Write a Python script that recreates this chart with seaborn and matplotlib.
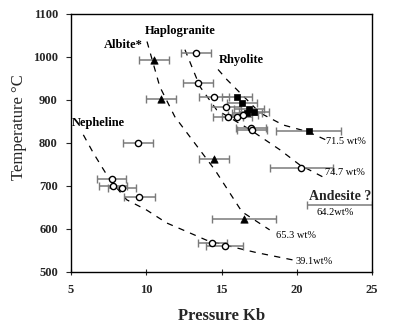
import matplotlib
matplotlib.use("Agg")
import matplotlib.pyplot as plt
import seaborn as sns
import pandas as pd
import numpy as np

# ---- data ----
albite_p = [10.5, 11.0, 14.5, 16.5]
albite_t = [994, 903, 763, 623]
albite_e = [1.0, 1.0, 1.0, 2.1]

haplo_p = [13.3, 13.45, 14.5, 15.3, 15.45, 16.05, 16.45, 16.95, 17.0, 20.3]
haplo_t = [1009, 940, 906, 884, 860, 860, 866, 836, 831, 741]
haplo_e = [1.0, 1.0, 1.0, 1.0, 1.0, 1.0, 1.0, 1.0, 1.0, 2.1]

rhyo_p = [16.0, 16.35, 16.85, 17.15, 16.7, 20.8]
rhyo_t = [907, 893, 879, 873, 870, 827]
rhyo_e = [1.0, 1.0, 1.0, 1.0, 1.0, 2.15]

neph_p = [9.45, 7.7, 7.8, 8.4, 9.55, 14.4, 15.2]
neph_t = [800, 716, 699, 695, 674, 567, 561]
neph_e = [1.0, 0.95, 0.95, 0.95, 1.05, 0.95, 1.2]

andes_p = [22.83]
andes_t = [656]
andes_e = [2.17]

# dashed trend curves
c653_p = [10.05, 10.9, 11.9, 14.57, 16.36, 18.2]
c653_t = [1036, 931, 861, 737, 640, 598]
c747_p = [12.57, 13.57, 14.68, 16.9, 18.89, 20.2, 21.74]
c747_t = [1017, 931, 877, 831, 784, 749, 721]
c715_p = [14.77, 15.37, 17.56, 19.09, 20.75, 21.95]
c715_t = [971, 947, 870, 842, 826, 807]
c391_p = [5.82, 6.48, 7.04, 7.59, 8.7, 10.03, 11.36, 12.69, 14.0, 16.0, 17.34, 19.75]
c391_t = [819, 777, 745, 714, 668, 644, 614, 594, 574, 556, 545, 528]

sns.set_theme(style="white")
plt.rcParams['font.family'] = ['Liberation Serif', 'DejaVu Serif']

fig = plt.figure(figsize=(3.93, 3.3), dpi=100)
ax = fig.add_axes([71/393, 1-272/330, (372-71)/393, (272-14)/330])

# curves
dash = (5, 5)
for cp, ct in [(c653_p, c653_t), (c747_p, c747_t), (c715_p, c715_t), (c391_p, c391_t)]:
    df = pd.DataFrame({"P": cp, "T": ct})
    sns.lineplot(data=df, x="P", y="T", sort=False, color="black", lw=0.9,
                 ax=ax, estimator=None)
    ax.lines[-1].set_dashes(dash)

def ebars(p, t, e):
    ax.errorbar(p, t, xerr=e, fmt="none", ecolor="#7a7a7a", elinewidth=1.1,
                capsize=3, capthick=1.0, zorder=2)
    for cap in ax.containers[-1].lines[1]:
        cap.set_color("black")

for p, t, e in [(albite_p, albite_t, albite_e), (haplo_p, haplo_t, haplo_e),
                (rhyo_p, rhyo_t, rhyo_e), (neph_p, neph_t, neph_e),
                (andes_p, andes_t, andes_e)]:
    ebars(p, t, e)

sns.scatterplot(x=albite_p, y=albite_t, marker="^", s=28, color="black",
                edgecolor="black", linewidth=0.5, ax=ax, zorder=3)
sns.scatterplot(x=rhyo_p, y=rhyo_t, marker="s", s=18, color="black",
                edgecolor="black", linewidth=0.5, ax=ax, zorder=3)
sns.scatterplot(x=haplo_p + neph_p, y=haplo_t + neph_t, marker="o", s=20,
                facecolor="white", edgecolor="black", linewidth=1.0, ax=ax, zorder=3)

ax.set_xlim(5, 25)
ax.set_ylim(500, 1100)
ax.set_xticks([5, 10, 15, 20, 25])
ax.set_yticks(range(500, 1101, 100))
ax.tick_params(axis="x", direction="inout", length=5, width=0.8, labelsize=9,
               bottom=True, pad=6)
ax.tick_params(axis="y", direction="out", length=3.5, width=0.8, labelsize=9,
               left=True, pad=6)
for lab in ax.get_xticklabels() + ax.get_yticklabels():
    lab.set_fontweight("bold")
for s in ax.spines.values():
    s.set_color("black")
    s.set_linewidth(1.0)

ax.set_xlabel("Pressure Kb", fontsize=12, fontweight="bold", labelpad=9)
ax.set_ylabel("Temperature \u00b0C", fontsize=12, fontweight="normal")
ax.yaxis.set_label_coords(-0.145, 0.562)

bold = dict(fontweight="bold", fontsize=9, color="black")
ax.text(12.24, 1060, "Haplogranite", ha="center", va="center", **bold)
ax.text(8.49, 1029, "Albite*", ha="center", va="center", **bold)
ax.text(14.8, 992, "Rhyolite", ha="left", va="center", **bold)
ax.text(5.05, 846, "Nepheline", ha="left", va="center", **bold)
ax.text(22.9, 675, "Andesite ?", ha="center", va="center", fontweight="bold", fontsize=10)
small = dict(fontsize=7.5, color="black")
ax.text(22.55, 638, "64.2wt%", ha="center", va="center", **small)
ax.text(21.95, 803, "71.5 wt%", ha="left", va="center", **small)
ax.text(21.9, 731, "74.7 wt%", ha="left", va="center", **small)
ax.text(18.65, 586, "65.3 wt%", ha="left", va="center", **small)
ax.text(19.95, 524, "39.1wt%", ha="left", va="center", **small)

fig.savefig("out.png", dpi=100)
